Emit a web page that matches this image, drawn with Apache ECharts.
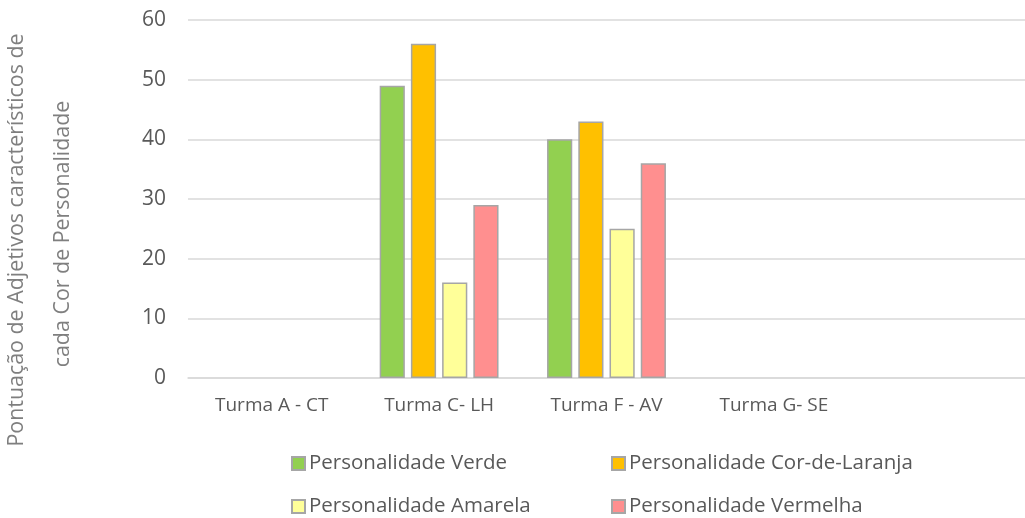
<!DOCTYPE html>
<html>
<head>
<meta charset="utf-8">
<script src="https://cdn.jsdelivr.net/npm/echarts@6/dist/echarts.min.js"></script>
<style>
html,body{margin:0;padding:0;background:#fff;}
#main{width:1025px;height:518px;}
</style>
</head>
<body>
<div id="main"></div>
<script>
// turmas (a 5a categoria fica vazia, como no original)
var turmas = ['Turma A - CT', 'Turma C- LH', 'Turma F - AV', 'Turma G- SE', ''];
var nomes = ['Personalidade Verde', 'Personalidade Cor-de-Laranja', 'Personalidade Amarela', 'Personalidade Vermelha'];
var cores = ['#92d050', '#ffc000', '#ffff99', '#ff8f8f'];
var verde = [null, 49, 40, null, null];
var laranja = [null, 56, 43, null, null];
var amarela = [null, 16, 25, null, null];
var vermelha = [null, 29, 36, null, null];
var valores = [verde, laranja, amarela, vermelha];

var fonte = 'Open Sans';
var cinza = '#595959';

var myChart = echarts.init(document.getElementById('main'));

var series = [];
for (var i = 0; i < nomes.length; i++) {
	series.push({
		name: nomes[i],
		type: 'bar',
		data: valores[i],
		barGap: '24%',
		barCategoryGap: '29%',
		itemStyle: { color: cores[i], borderColor: '#a6a6a6', borderWidth: 1.5 }
	});
}

// legenda em duas colunas
function coluna(left, itens) {
	return {
		orient: 'vertical',
		left: left,
		top: 448,
		height: 80,
		icon: 'rect',
		itemWidth: 13,
		itemHeight: 13,
		itemGap: 22,
		data: itens,
		textStyle: { color: cinza, fontSize: 20.5, fontFamily: fonte, padding: [0, 0, 0, -1] }
	};
}

myChart.setOption({
	animation: false,
	textStyle: { fontFamily: fonte },
	grid: { left: 188, right: 0, top: 20, bottom: 140 },
	xAxis: {
		type: 'category',
		data: turmas,
		axisTick: { show: false },
		axisLine: { lineStyle: { color: '#d9d9d9', width: 1.5 } },
		axisLabel: { color: cinza, fontSize: 19, margin: 18, fontFamily: fonte }
	},
	yAxis: {
		type: 'value',
		min: 0,
		max: 60,
		interval: 10,
		axisLine: { show: false },
		axisTick: { show: false },
		splitLine: { lineStyle: { color: '#d9d9d9', width: 1.5 } },
		axisLabel: { color: cinza, fontSize: 21, margin: 22, fontFamily: fonte }
	},
	legend: [coluna(286, [nomes[0], nomes[2]]), coluna(606, [nomes[1], nomes[3]])],
	graphic: [{
		type: 'text',
		x: 17,
		y: 240,
		rotation: Math.PI / 2,
		style: {
			text: 'Pontuação de Adjetivos característicos de',
			fill: '#7f7f7f',
			font: '21.4px "Open Sans"',
			align: 'center',
			verticalAlign: 'middle'
		}
	}, {
		type: 'text',
		x: 63,
		y: 234,
		rotation: Math.PI / 2,
		style: {
			text: 'cada Cor de Personalidade',
			fill: '#7f7f7f',
			font: '21.4px "Open Sans"',
			align: 'center',
			verticalAlign: 'middle'
		}
	}],
	series: series
});
</script>
</body>
</html>
